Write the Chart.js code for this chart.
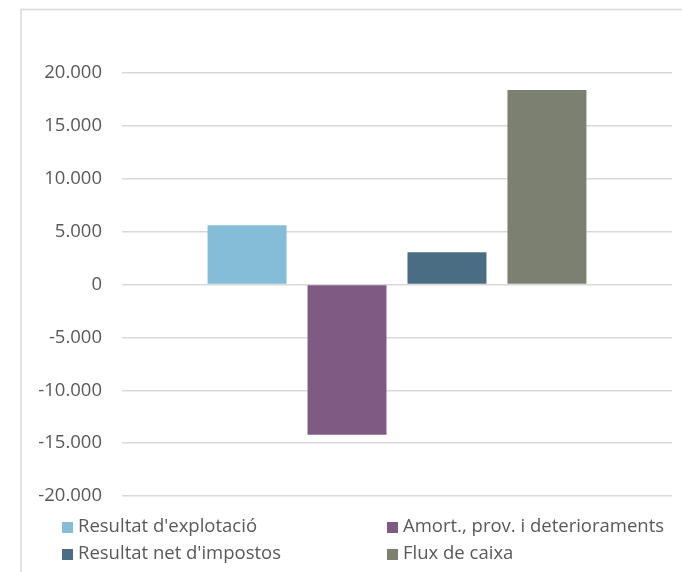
<!DOCTYPE html>
<html>
<head>
<meta charset="utf-8">
<script src="https://cdn.jsdelivr.net/npm/chart.js@4/dist/chart.umd.min.js"></script>
<style>
  html, body { margin: 0; padding: 0; background: #fff; }
  #wrap { position: relative; width: 682px; height: 572px; }
</style>
</head>
<body>
<div id="wrap"><canvas id="myChart"></canvas></div>
<script>
// Dades del gràfic
const categories = [''];
const seriesNames = ["Resultat d'explotació", 'Amort., prov. i deterioraments', "Resultat net d'impostos", 'Flux de caixa'];
const seriesValues = [5600, -14200, 3050, 18400];
const seriesColors = ['#85bcd8', '#7f5a83', '#4a6d83', '#7c8070'];
const yMin = -20000;
const yMax = 20000;
const yStep = 5000;

Chart.defaults.font.family = "'Open Sans', sans-serif";
Chart.defaults.font.size = 18.5;
Chart.defaults.color = '#595959';

// Format amb punt de milers (20.000)
function formatMiles(v) {
  const s = String(Math.abs(v)).replace(/\B(?=(\d{3})+(?!\d))/g, '.');
  return v < 0 ? '-' + s : s;
}

// Marc gris (només a dalt i a l'esquerra) i llegenda en dues columnes
const frameLegendPlugin = {
  id: 'frameLegend',
  beforeDraw(chart) {
    const ctx = chart.ctx;
    ctx.save();
    ctx.strokeStyle = '#d9d9d9';
    ctx.lineWidth = 1.5;
    ctx.beginPath();
    ctx.moveTo(21, 572);
    ctx.lineTo(21, 9.5);
    ctx.lineTo(682, 9.5);
    ctx.stroke();
    ctx.restore();
  },
  afterDraw(chart) {
    const ctx = chart.ctx;
    const cols = [62, 387];
    const rows = [527.5, 554.5];
    ctx.save();
    ctx.font = "18.5px 'Open Sans', sans-serif";
    ctx.textBaseline = 'middle';
    ctx.textAlign = 'left';
    chart.data.datasets.forEach((ds, i) => {
      const x = cols[i % 2];
      const y = rows[Math.floor(i / 2)];
      ctx.fillStyle = ds.backgroundColor;
      ctx.fillRect(x, y - 5.5, 11, 11);
      ctx.fillStyle = '#595959';
      ctx.fillText(ds.label, x + 16, y - 1);
    });
    ctx.restore();
  }
};

const data = {
  labels: categories,
  datasets: seriesNames.map((name, i) => ({
    label: name,
    data: [seriesValues[i]],
    backgroundColor: seriesColors[i],
    borderWidth: 0,
    categoryPercentage: 0.727,
    barPercentage: 0.79
  }))
};

const config = {
  type: 'bar',
  data: data,
  options: {
    responsive: false,
    animation: false,
    layout: { padding: { left: 0, right: 10, top: 73, bottom: 76 } },
    plugins: {
      legend: { display: false },
      tooltip: { enabled: false }
    },
    scales: {
      x: { display: false },
      y: {
        min: yMin,
        max: yMax,
        border: { display: false },
        grid: { color: '#d9d9d9', lineWidth: 1.5, drawTicks: false },
        ticks: {
          stepSize: yStep,
          padding: 20,
          color: '#595959',
          callback: v => formatMiles(v)
        },
        afterFit(scale) { scale.width = 122; }
      }
    }
  },
  plugins: [frameLegendPlugin]
};

const canvas = document.getElementById('myChart');
canvas.width = 682;
canvas.height = 572;
const myChart = new Chart(canvas, config);
</script>
</body>
</html>
